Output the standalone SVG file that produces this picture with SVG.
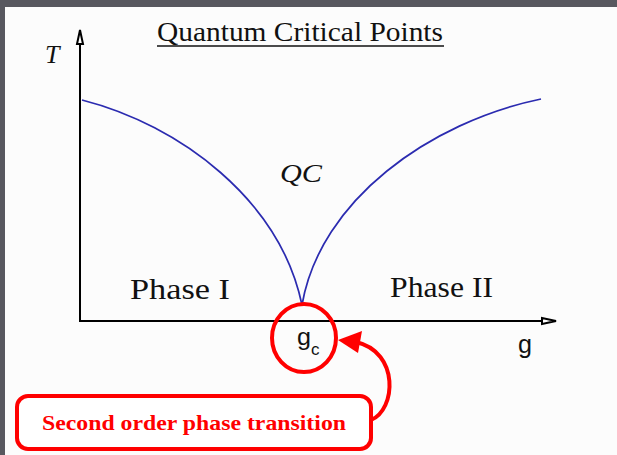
<svg xmlns="http://www.w3.org/2000/svg" width="617" height="455" viewBox="0 0 617 455">
<style>
.serif{font-family:"Liberation Serif","Times New Roman",serif;fill:#111}
.sans{font-family:"Liberation Sans",Arial,sans-serif;fill:#111}
.axis{stroke:#000;stroke-width:2;fill:none}
.head{fill:#fff;stroke:#000;stroke-width:2;stroke-linejoin:miter}
.curve{stroke:#2b2bb0;stroke-width:1.7;fill:none}
.red{stroke:#f00;stroke-width:4;fill:none}
</style>
<rect x="0" y="0" width="617" height="455" fill="#fcfcfc"/>
<rect x="0" y="0" width="617" height="7" fill="#58585f"/>
<rect x="0" y="0" width="5" height="455" fill="#58585f"/>

<g id="title">
<text class="serif" x="300" y="41" font-size="28" text-anchor="middle" textLength="286" lengthAdjust="spacingAndGlyphs">Quantum Critical Points</text>
<line x1="157" y1="46" x2="444" y2="46" stroke="#111" stroke-width="1.5"/>
</g>

<g id="axes">
<line class="axis" x1="80" y1="321" x2="80" y2="42"/>
<polygon class="head" points="80,30 77,44 83,44"/>
<line class="axis" x1="79" y1="321" x2="543" y2="321"/>
<polygon class="head" points="556,321 542,318 542,324"/>
<text class="serif" x="45" y="63" font-size="26" font-style="italic">T</text>
<text class="sans" x="518" y="353" font-size="26" textLength="14" lengthAdjust="spacingAndGlyphs">g</text>
</g>

<g id="curves">
<path class="curve" d="M82,100 C180,125 280,200 302,305"/>
<path class="curve" d="M302,305 C320,200 430,122 541,99"/>
</g>

<g id="labels">
<text class="serif" x="280" y="182" font-size="25" font-style="italic" textLength="42" lengthAdjust="spacingAndGlyphs">QC</text>
<text class="serif" x="130" y="299" font-size="29" textLength="100" lengthAdjust="spacingAndGlyphs">Phase I</text>
<text class="serif" x="390" y="297" font-size="29" textLength="103" lengthAdjust="spacingAndGlyphs">Phase II</text>
</g>

<g id="gc">
<text class="sans" x="297" y="345" font-size="24" textLength="14" lengthAdjust="spacingAndGlyphs">g</text>
<text class="sans" x="311" y="355" font-size="17">c</text>
<ellipse class="red" cx="304" cy="338" rx="32" ry="34"/>
</g>

<g id="connectors">
<path class="red" d="M371,420 C396,410 400,352 356,342"/>
<polygon points="338,340 362,331 358,353" fill="#f00"/>
</g>

<g id="note">
<rect x="17" y="396" width="354" height="53" rx="11" fill="#fff" stroke="#f00" stroke-width="4"/>
<text x="194" y="430" font-size="21" font-weight="bold" text-anchor="middle" textLength="304" lengthAdjust="spacingAndGlyphs" style="font-family:'Liberation Serif','Times New Roman',serif;fill:#f00">Second order phase transition</text>
</g>
</svg>
